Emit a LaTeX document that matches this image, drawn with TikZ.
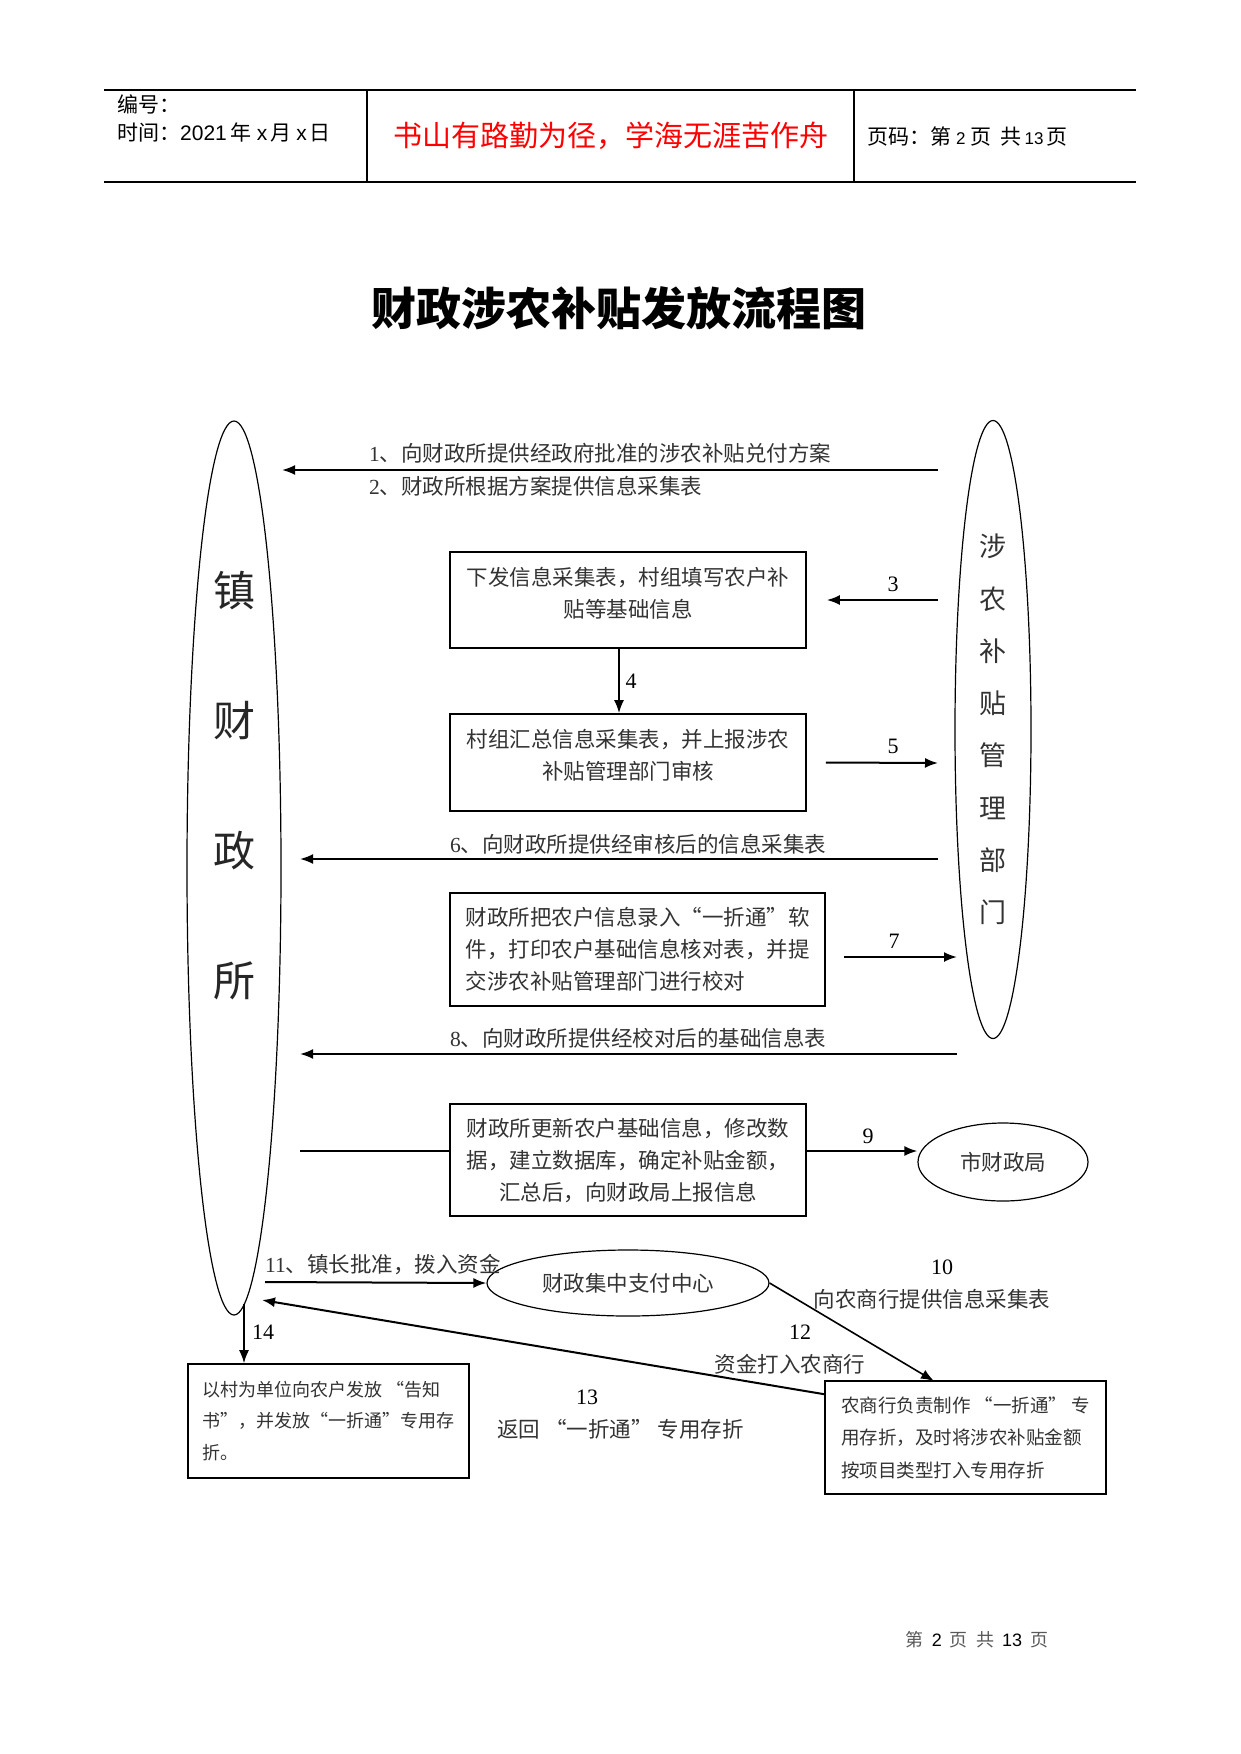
\documentclass[tikz,border=0pt]{standalone}
\usepackage{fontspec}
\setmainfont{Liberation Serif}
\newfontfamily\cjk{Noto Sans CJK SC}
\newfontfamily\tmsf{Liberation Serif}
\newfontfamily\arialf{Liberation Sans}
\newcommand\tm[1]{{\tmsf #1}}
\newcommand\lowpad{\rule[-16pt]{0pt}{16pt}}
\usetikzlibrary{shapes.geometric,arrows.meta,calc}
\tikzset{
  txt/.style={font=\cjk\fontsize{21.5}{32}\selectfont, text=black!80, inner sep=0pt},
  smalltxt/.style={font=\cjk\fontsize{18.5}{32.5}\selectfont, text=black!80, inner sep=0pt},
  box/.style={draw, rectangle, line width=1.6pt, inner sep=0pt},
  oval/.style={draw, ellipse, line width=1.2pt, inner sep=0pt},
  arr/.style={-{Latex[length=13pt,width=10pt]}, line width=2pt},
  num/.style={font=\tmsf\fontsize{22}{26}\selectfont, inner sep=0pt},
  hdr/.style={font=\cjk\fontsize{21}{24}\selectfont, inner sep=0pt},
}
\begin{document}
\begin{tikzpicture}[x=1pt,y=-1pt]
\useasboundingbox (0,0) rectangle (1241,1754);
\fill[white] (0,0) rectangle (1241,1754);

% header
\draw[line width=1.2pt] (104,90) -- (1136,90) (104,182) -- (1136,182)
  (367,90) -- (367,182) (854,90) -- (854,182);
\node[hdr, anchor=west] (hno) at (117,104) {编号：};
\node[hdr, anchor=west] (htime) at (117,132) {时间：{\arialf 2021}\hspace{4pt}年\hspace{5pt}{\arialf x}\hspace{3pt}月\hspace{5pt}{\arialf x}\hspace{3pt}日};
\node[font=\cjk\fontsize{29}{34}\selectfont, text=red, inner sep=0pt] (hmotto) at (610.5,136) {书山有路勤为径，学海无涯苦作舟};
\node[hdr, anchor=west] (hpage) at (867,136) {页码：第\hspace{5pt}{\arialf\fontsize{17}{20}\selectfont 2}\hspace{5pt}页\hspace{9pt}共\hspace{3pt}{\arialf\fontsize{17}{20}\selectfont 13}\hspace{3pt}页};

% title
\node[font=\cjk\bfseries\fontsize{45}{50}\selectfont, inner sep=0pt] (title) at (619,308) {财政涉农补贴发放流程图};

% side ellipses
\node[oval, minimum width=94pt, minimum height=894pt] (zcz) at (234,868) {};
\node[font=\cjk\fontsize{42}{130}\selectfont, align=center, text=black!85, inner sep=0pt] (zczt) at (234,786) {镇\\财\\政\\所};
\node[oval, minimum width=76pt, minimum height=618pt, font=\cjk\fontsize{27}{52.3}\selectfont, text=black!80, align=center] (szbm) at (993,729.5) {涉\\农\\补\\贴\\管\\理\\部\\门};

% arrows 1/2
\coordinate (a1s) at (938,470);
\coordinate (a1e) at (282,470);
\draw[arr] (a1s) -- (a1e);
\node[txt, anchor=west] (l1) at (369,453) {\tm{1}、向财政所提供经政府批准的涉农补贴兑付方案};
\node[txt, anchor=west] (l2) at (369,486) {\tm{2}、财政所根据方案提供信息采集表};

% box 3
\node[box, txt, minimum width=356pt, minimum height=96pt, align=center] (b3) at (628,600) {下发信息采集表，村组填写农户补\\贴等基础信息\lowpad};
\coordinate (a3s) at (938,600);
\draw[arr] (a3s) -- ($(b3.east)+(20,0)$);
\node[num] (n3) at (893,584) {3};

% box 5
\node[box, txt, minimum width=356pt, minimum height=97pt, align=center] (b5) at (628,762.5) {村组汇总信息采集表，并上报涉农\\补贴管理部门审核\lowpad};
\draw[arr] ($(b3.south)+(-9,0)$) -- ($(b5.north)+(-9,0)$);
\node[num] (n4) at (631,681) {4};
\coordinate (a5e) at (938,763);
\draw[arr] ($(b5.east)+(19,0)$) -- (a5e);
\node[num] (n5) at (893,746) {5};

% arrow 6
\coordinate (a6s) at (938,859);
\coordinate (a6e) at (300,859);
\draw[arr] (a6s) -- (a6e);
\node[txt, anchor=west] (l6) at (450,844) {\tm{6}、向财政所提供经审核后的信息采集表};

% box 7
\node[box, txt, minimum width=375pt, minimum height=113pt, align=left] (b7) at (637.5,949.5) {财政所把农户信息录入“一折通”软\\件，打印农户基础信息核对表，并提\\交涉农补贴管理部门进行校对};
\coordinate (a7s) at (844,957);
\coordinate (a7e) at (957,957);
\draw[arr] (a7s) -- (a7e);
\node[num] (n7) at (894,941) {7};

% arrow 8
\coordinate (a8s) at (957,1054);
\coordinate (a8e) at (300,1054);
\draw[arr] (a8s) -- (a8e);
\node[txt, anchor=west] (l8) at (450,1038) {\tm{8}、向财政所提供经校对后的基础信息表};

% box 9
\node[box, txt, minimum width=356pt, minimum height=112pt, align=center] (b9) at (628,1160) {财政所更新农户基础信息，修改数\\据，建立数据库，确定补贴金额，\\汇总后，向财政局上报信息};
\node[oval, txt, minimum width=170pt, minimum height=78pt] (mkt) at (1003,1162) {市财政局};
\coordinate (l9s) at (300,1151);
\draw[line width=1.2pt] (l9s) -- (b9.west |- l9s);
\draw[arr] (b9.east |- l9s) -- (mkt.west |- l9s);
\node[num] (n9) at (868,1136) {9};

% payment centre
\node[oval, txt, minimum width=282pt, minimum height=66pt] (pay) at (628,1283) {财政集中支付中心};
\node[txt, anchor=west] (l11) at (265,1265) {\tm{11}、镇长批准，拨入资金};
\coordinate (a11s) at (265,1282);
\draw[arr] (a11s) -- (pay.west);

% bank box
\node[box, smalltxt, minimum width=281pt, minimum height=113pt, align=left] (bank) at (965.5,1437.5) {农商行负责制作 “一折通” 专\\用存折，及时将涉农补贴金额\\按项目类型打入专用存折};
\coordinate (a10e) at (934,1381);
\draw[-{Latex[length=13pt,width=10pt]}, line width=1.6pt] (pay.east) -- (a10e);
\node[num] (n10) at (942,1267) {10};
\node[txt] (l10) at (932,1299) {向农商行提供信息采集表};

% arrow 12/13
\coordinate (a12e) at (262,1300);
\draw[arr] ($(bank.north west)+(0,14)$) -- (a12e);
\node[num] (n12) at (800,1332) {12};
\node[txt] (l12) at (790,1364) {资金打入农商行};
\node[num] (n13) at (587,1397) {13};
\node[txt] (l13) at (620.5,1429) {返回 “一折通” 专用存折};

% box 14
\node[box, smalltxt, minimum width=281pt, minimum height=114pt, align=left, font=\cjk\fontsize{18}{31.5}\selectfont] (b14) at (328.5,1421) {以村为单位向农户发放 “告知\\书”，并发放“一折通”专用存\\折。};
\coordinate (a14s) at (244,1304);
\draw[-{Latex[length=13pt,width=10pt]}, line width=1.6pt] (a14s) -- (b14.north -| a14s);
\node[num] (n14) at (263,1332) {14};

% footer
\node[font=\cjk\fontsize{18}{22}\selectfont, text=black!65, inner sep=0pt] (foot) at (977,1640) {第\ \ {\arialf\color{black}2}\ \ 页\ \ 共\ \ {\arialf\color{black}13}\ \ 页};
\end{tikzpicture}
\end{document}
